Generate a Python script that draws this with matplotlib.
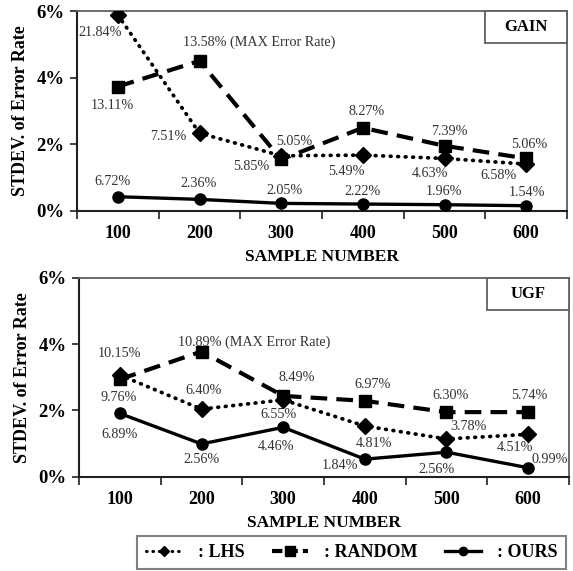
import matplotlib
matplotlib.use("Agg")
import matplotlib.pyplot as plt
from matplotlib.lines import Line2D
from matplotlib.patches import Rectangle
import numpy as np

plt.rcParams['font.family'] = ['Liberation Serif', 'DejaVu Serif']

samples = ["100", "200", "300", "400", "500", "600"]
y_ticks = [0, 2, 4, 6]
y_tick_labels = ["0%", "2%", "4%", "6%"]

# GAIN: standard deviation of error rate (%)
gain_lhs = [5.88, 2.33, 1.65, 1.67, 1.57, 1.40]
gain_random = [3.73, 4.50, 1.54, 2.49, 1.95, 1.57]
gain_ours = [0.42, 0.34, 0.22, 0.20, 0.18, 0.15]

gain_lhs_labels = ["21.84%", "7.51%", "5.85%", "5.49%", "4.63%", "6.58%"]
gain_random_labels = ["13.11%", "13.58% (MAX Error Rate)", "5.05%", "8.27%", "7.39%", "5.06%"]
gain_ours_labels = ["6.72%", "2.36%", "2.05%", "2.22%", "1.96%", "1.54%"]

# UGF: standard deviation of error rate (%)
ugf_lhs = [3.07, 2.04, 2.32, 1.53, 1.14, 1.28]
ugf_random = [2.94, 3.78, 2.44, 2.29, 1.95, 1.95]
ugf_ours = [1.91, 0.99, 1.49, 0.53, 0.74, 0.27]

ugf_lhs_labels = ["10.15%", "6.40%", "6.55%", "4.81%", "3.78%", "4.51%"]
ugf_random_labels = ["9.76%", "10.89% (MAX Error Rate)", "8.49%", "6.97%", "6.30%", "5.74%"]
ugf_ours_labels = ["6.89%", "2.56%", "4.46%", "1.84%", "2.56%", "0.99%"]

# label offsets in pixels (dx, dy with y pointing up)
gain_lhs_off = [(-18, -18), (-31, -3), (-30, -11), (-16, -16), (-15, -15), (-28, -11)]
gain_random_off = [(-5, -19), (-17, 19), (13, 18), (4, 16), (5, 14), (3, 14)]
gain_ours_off = [(-5, 15), (-1, 16), (3, 13), (0, 13), (0, 13), (1, 13)]

ugf_lhs_off = [(0, 22), (2, 19), (-5, -15), (9, -17), (22, 12), (-13, -13)]
ugf_random_off = [(-1, -18), (-24, 9), (14, 18), (8, 16), (4, 17), (1, 17)]
ugf_ours_off = [(0, -21), (0, -16), (-7, -19), (-25, -6), (-10, -17), (22, 8)]

W, H = 573, 571
fig = plt.figure(figsize=(W / 100, H / 100), dpi=100)

LBL = dict(fontsize=10.2, color='#333333')
lhs_style = dict(color='black', lw=2.7, linestyle=(0, (0.2, 1.8)), dash_capstyle='round',
                 marker='D', markersize=8, markerfacecolor='black', markeredgecolor='black')
rnd_style = dict(color='black', lw=3.0, linestyle=(0, (4.0, 2.2)),
                 marker='s', markersize=9, markerfacecolor='black', markeredgecolor='black')
our_style = dict(color='black', lw=2.4, linestyle='-',
                 marker='o', markersize=8, markerfacecolor='black', markeredgecolor='black')


def panel(rect, lhs, rnd, ours, labels, offsets, tag, box):
    ax = fig.add_axes(rect)
    x = np.arange(len(samples))
    ax.plot(x, rnd, zorder=3, **rnd_style)
    ax.plot(x, lhs, zorder=4, **lhs_style)
    ax.plot(x, ours, zorder=5, **our_style)

    for series, labs, offs in zip((lhs, rnd, ours), labels, offsets):
        for xi, yi, lab, (dx, dy) in zip(x, series, labs, offs):
            ha = 'left' if 'MAX' in lab else 'center'
            ax.annotate(lab, (xi, yi), xytext=(dx, dy), textcoords='offset pixels',
                        ha=ha, va='center', zorder=6, **LBL)

    ax.set_xlim(-0.5, len(samples) - 0.5)
    ax.set_ylim(0, 6)
    ax.set_xticks(np.arange(-0.5, len(samples), 1.0))
    ax.set_xticklabels([])
    ax.set_xticks(x, minor=True)
    ax.set_xticklabels(samples, minor=True, fontsize=13, fontweight='bold')
    ax.tick_params(axis='x', which='major', direction='out', length=6, width=1.3, color='#333333')
    ax.tick_params(axis='x', which='minor', length=0, pad=10)
    ax.set_yticks(y_ticks)
    ax.set_yticklabels(y_tick_labels, fontsize=13.5, fontweight='bold')
    ax.tick_params(axis='y', direction='out', length=5, width=1.3, pad=4, color='#333333')

    for side in ('left', 'bottom'):
        ax.spines[side].set_color('#202020')
        ax.spines[side].set_linewidth(1.5)
    for side in ('top', 'right'):
        ax.spines[side].set_color('#606060')
        ax.spines[side].set_linewidth(1.3)

    ax.set_xlabel("SAMPLE NUMBER", fontsize=12.5, fontweight='bold', labelpad=5)
    ax.set_ylabel("STDEV. of Error Rate", fontsize=13, fontweight='bold', labelpad=5)

    bx, by, bw, bh = box
    ax.add_patch(Rectangle((bx, by), bw, bh, transform=ax.transAxes, facecolor='white',
                           edgecolor='#606060', lw=1.3, zorder=7, clip_on=False))
    ax.text(bx + bw / 2, by + bh / 2, tag, transform=ax.transAxes, ha='center', va='center',
            fontsize=12, fontweight='bold', zorder=8)
    return ax


panel([77 / W, 1 - 210.7 / H, 490 / W, 199.7 / H], gain_lhs, gain_random, gain_ours,
      (gain_lhs_labels, gain_random_labels, gain_ours_labels),
      (gain_lhs_off, gain_random_off, gain_ours_off), "GAIN", (0.833, 0.84, 0.167, 0.16))

panel([79 / W, 1 - 476.7 / H, 490 / W, 198.7 / H], ugf_lhs, ugf_random, ugf_ours,
      (ugf_lhs_labels, ugf_random_labels, ugf_ours_labels),
      (ugf_lhs_off, ugf_random_off, ugf_ours_off), "UGF", (0.833, 0.84, 0.167, 0.16))

handles = [
    Line2D([], [], color='black', lw=2.2, linestyle=(0, (0.2, 1.9)), dash_capstyle='round',
           marker='D', markersize=5),
    Line2D([], [], color='black', lw=3.0, linestyle=(0, (2.5, 1.2)), marker='s', markersize=7),
    Line2D([], [], color='black', lw=2.4, linestyle='-', marker='o', markersize=6),
]
leg = fig.legend(handles, [": LHS", ": RANDOM", ": OURS"], loc='center',
                 bbox_to_anchor=(351.5 / W, 1 - 552.5 / H), ncol=3, frameon=True,
                 fancybox=False, edgecolor='#606060', handlelength=2.0, columnspacing=1.5,
                 handletextpad=0.9, borderpad=0.45,
                 prop=dict(family='Liberation Serif', weight='bold', size=13))
leg.get_frame().set_linewidth(1.5)

fig.savefig("out.png", dpi=100, facecolor='white')
